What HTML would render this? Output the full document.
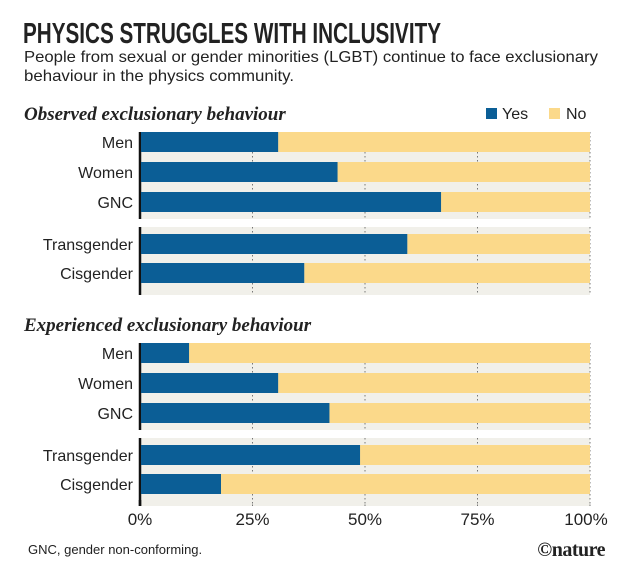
<!DOCTYPE html>
<html><head><meta charset="utf-8"><style>
html,body{margin:0;padding:0;background:#fff;width:630px;height:577px;overflow:hidden}
svg{display:block}
text{font-family:"Liberation Sans Narrow","Liberation Sans",sans-serif;fill:#222}
</style></head><body>
<svg id="chart" width="630" height="577" viewBox="0 0 630 577" xmlns="http://www.w3.org/2000/svg">
<text x="23" y="43" font-size="29" font-weight="bold" textLength="418" lengthAdjust="spacingAndGlyphs">PHYSICS STRUGGLES WITH INCLUSIVITY</text>
<text x="24" y="62" font-size="16" fill="#333" textLength="574" lengthAdjust="spacingAndGlyphs">People from sexual or gender minorities (LGBT) continue to face exclusionary</text>
<text x="24" y="81" font-size="16" fill="#333" textLength="270" lengthAdjust="spacingAndGlyphs">behaviour in the physics community.</text>
<g id="plot"></g>
<rect x="486" y="108" width="11" height="11" fill="#0b5e96"/>
<text x="502" y="119" font-size="16">Yes</text>
<rect x="549" y="108" width="11" height="11" fill="#fbd98a"/>
<text x="566" y="119" font-size="16">No</text>
<text x="28" y="554" font-size="13" fill="#333">GNC, gender non-conforming.</text>
<text x="605" y="556" font-size="20" font-weight="bold" text-anchor="end" style="font-family:'Liberation Serif',serif;letter-spacing:-0.5px">©nature</text>
</svg>
<script>
const categories = ["Men","Women","GNC","Transgender","Cisgender"];
const observedYes = [30.7, 43.9, 66.9, 59.4, 36.5];
const experiencedYes = [10.9, 30.7, 42.1, 48.9, 18.0];
const tickValues = [0, 25, 50, 75, 100];
const tickLabels = ["0%","25%","50%","75%","100%"];
const panelTitles = ["Observed exclusionary behaviour","Experienced exclusionary behaviour"];

const NS = "http://www.w3.org/2000/svg";
const plot = document.getElementById('plot');
const X0 = 140, X1 = 590;
const x = v => X0 + (X1 - X0) * v / 100;
function mk(tag, attrs, parent){ const e=document.createElementNS(NS,tag); for(const k in attrs) e.setAttribute(k,attrs[k]); (parent||plot).appendChild(e); return e; }

// row top positions relative to panel top (panel top = axis line top)
const rowOffsets = [0, 30, 60, 102, 131];
const groupBands = [[0, 87], [95, 163]];
const panels = [{top:132, head:120, vals:observedYes}, {top:343, head:331, vals:experiencedYes}];
const BH = 20;

panels.forEach((p, pi) => {
  const h = mk('text', {x:24, y:p.head, 'font-size':19, 'font-style':'italic', 'font-weight':'bold', style:"font-family:'Liberation Serif',serif"});
  h.textContent = panelTitles[pi];
  
  
  groupBands.forEach((g, gi) => {
    const b = mk('rect', {x:X0, y:p.top+g[0], width:X1-X0, height:g[1]-g[0], fill:'#f1f0ea'});
    
    
    tickValues.slice(1).forEach(t => {
      const l = mk('line', {x1:x(t), x2:x(t), y1:p.top+g[0], y2:p.top+g[1], stroke:'#777', 'stroke-width':1, 'stroke-dasharray':'1.5,2.5'});
      
      
    });
    const a = mk('line', {x1:X0, x2:X0, y1:p.top+g[0], y2:p.top+g[1], stroke:'#111', 'stroke-width':2.5});
    
    
  });
  categories.forEach((c, i) => {
    const y = p.top + rowOffsets[i];
    const v = p.vals[i];
    const no = mk('rect', {x:x(v), y:y, width:x(100)-x(v), height:BH, fill:'#fbd98a'});
    
    
    const yes = mk('rect', {x:x(0)+1, y:y, width:x(v)-x(0)-1, height:BH, fill:'#0b5e96'});
    
    
    const t = mk('text', {x:133, y:y+BH/2+6, 'font-size':16, 'text-anchor':'end'});
    t.textContent = c;
    
    
  });
});
// axis bottom extension
const ax = mk('line', {x1:X0, x2:X0, y1:343+163, y2:500, stroke:'#111', 'stroke-width':2.5});
tickValues.forEach((t, i) => {
  if (i>0) {
    const l = mk('line', {x1:x(t), x2:x(t), y1:506, y2:502, stroke:'#777', 'stroke-dasharray':'1.5,2.5'});
    
    
  }
  const tx = mk('text', {x:x(t)+(i===4?-4:0), y:525, 'font-size':17, 'text-anchor':'middle', fill:'#333'});
  tx.textContent = tickLabels[i];
  
  
});
</script>
</body></html>
